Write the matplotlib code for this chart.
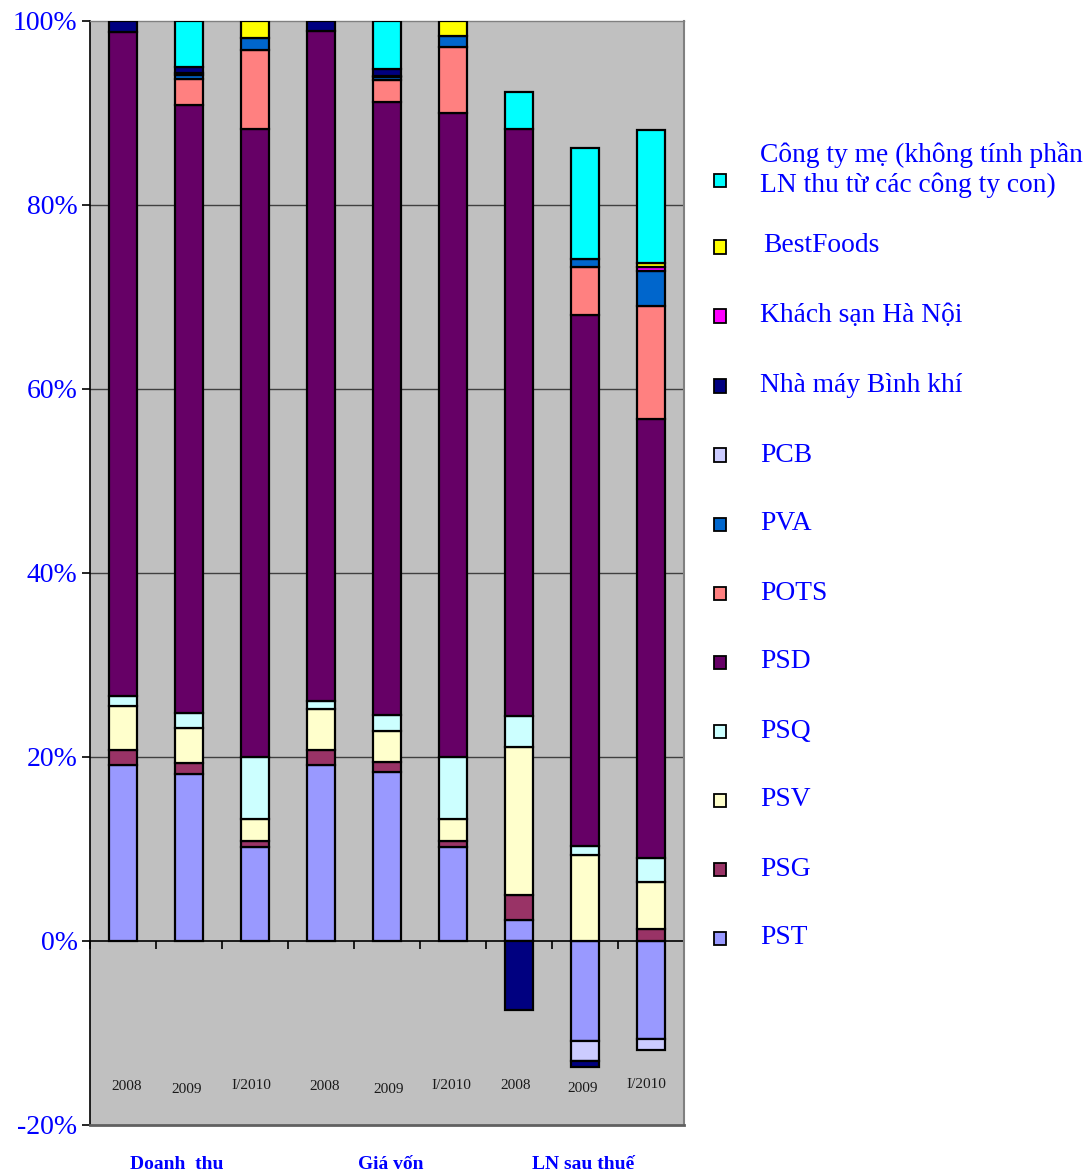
import matplotlib
matplotlib.use("Agg")
import matplotlib.pyplot as plt
import numpy as np
from matplotlib.patches import Rectangle

years = ['2008', '2009', 'I/2010', '2008', '2009', 'I/2010', '2008', '2009', 'I/2010']
groups = ['Doanh  thu', 'Giá vốn', 'LN sau thuế']

PST = [19.1, 18.2, 10.25, 19.1, 18.4, 10.25, 2.3, -10.9, -10.7]
PSG = [1.7, 1.2, 0.65, 1.7, 1.05, 0.65, 2.7, 0, 1.35]
PSV = [4.7, 3.7, 2.4, 4.45, 3.4, 2.4, 16.1, 9.4, 5.1]
PSQ = [1.1, 1.7, 6.7, 0.85, 1.7, 6.7, 3.4, 0.9, 2.6]
PSD = [72.2, 66.1, 68.3, 72.8, 66.6, 70.0, 63.8, 57.7, 47.7]
POTS = [0, 2.8, 8.5, 0, 2.4, 7.2, 0, 5.3, 12.3]
PVA = [0, 0.4, 1.3, 0, 0.4, 1.2, 0, 0.8, 3.8]
PCB = [0, 0.2, 0, 0, 0.1, 0, 0, -2.1, -1.1]
NMBK = [1.2, 0.7, 0, 1.1, 0.7, 0, -7.5, -0.7, 0]
KSHN = [0, 0, 0, 0, 0, 0, 0, 0, 0.4]
BESTFOODS = [0, 0, 1.9, 0, 0, 1.6, 0, 0, 0.5]
CTYME = [0, 5.0, 0, 0, 5.3, 0, 4.0, 12.1, 14.4]

series_names = ['PST', 'PSG', 'PSV', 'PSQ', 'PSD', 'POTS', 'PVA', 'PCB',
                'Nhà máy Bình khí', 'Khách sạn Hà Nội', 'BestFoods',
                'Công ty mẹ (không tính phần\nLN thu từ các công ty con)']
series_values = [PST, PSG, PSV, PSQ, PSD, POTS, PVA, PCB, NMBK, KSHN, BESTFOODS, CTYME]
series_colors = ['#9999FF', '#993366', '#FFFFCC', '#CCFFFF', '#660066', '#FF8080',
                 '#0066CC', '#CCCCFF', '#000080', '#FF00FF', '#FFFF00', '#00FFFF']

serif = ['Liberation Serif', 'DejaVu Serif']
BLUE = '#0000FF'

fig = plt.figure(figsize=(10.87, 11.73), dpi=100)
ax = fig.add_axes([90 / 1087, 48 / 1173, 594 / 1087, 1104 / 1173])
ax.set_facecolor('#C0C0C0')

x = np.arange(len(years))
pos_bottom = np.zeros(len(years))
neg_bottom = np.zeros(len(years))
for name, vals, col in zip(series_names, series_values, series_colors):
    v = np.array(vals, dtype=float)
    for i in range(len(v)):
        if v[i] == 0:
            continue
        if v[i] > 0:
            b = pos_bottom[i]
            pos_bottom[i] += v[i]
        else:
            b = neg_bottom[i]
            neg_bottom[i] += v[i]
        ax.bar(x[i], v[i], bottom=b, width=0.41, color=col, edgecolor='black',
               linewidth=1.6, zorder=3)

ax.set_xlim(-0.5, 8.5)
ax.set_ylim(-20, 100)
yt = [-20, 0, 20, 40, 60, 80, 100]
ax.set_yticks(yt)
ax.set_yticklabels([f'{t}%' for t in yt], fontfamily=serif, fontsize=20, color=BLUE)
for t in [20, 40, 60, 80]:
    ax.axhline(t, color='#404040', linewidth=1.0, zorder=1)

ax.spines['bottom'].set_position(('data', 0))
ax.spines['bottom'].set_color('black')
ax.spines['bottom'].set_linewidth(1.2)
ax.spines['bottom'].set_zorder(2)
ax.set_xticks(np.arange(-0.5, 9.0, 1.0))
ax.set_xticklabels([])
ax.tick_params(axis='x', direction='out', length=6, width=1.2, color='black')
ax.tick_params(axis='y', direction='out', length=6, width=1.2, color='black', pad=3)
ax.spines['left'].set_color('black')
ax.spines['left'].set_linewidth(1.2)
ax.spines['right'].set_color('#808080')
ax.spines['right'].set_linewidth(1.5)
ax.spines['top'].set_color('#808080')
ax.spines['top'].set_linewidth(1.0)
ax.axhline(-20, color='#606060', linewidth=2.0, zorder=4, clip_on=False)

year_y = [-15.8, -16.1, -15.7, -15.8, -16.1, -15.7, -15.7, -16.0, -15.6]
year_x = [0.06, 0.97, 1.94, 3.06, 4.03, 4.98, 5.95, 6.97, 7.93]
for xx, lab, yy in zip(year_x, years, year_y):
    ax.text(xx, yy, lab, ha='center', va='center', fontfamily=serif, fontsize=11,
            color='#1a1a1a')

group_x = [0.82, 4.05, 6.97]
for gx, g in zip(group_x, groups):
    ax.text(gx, -24.3, g, ha='center', va='center', fontfamily=serif, fontsize=14,
            fontweight='bold', color=BLUE, clip_on=False)

# Legend (reversed order, top = last series)
W, H = 1087, 1173
leg_y = [180, 247, 316, 386, 455, 524, 593, 662, 731, 800, 869, 938]
text_y = [170, 245, 316, 386, 455, 524, 593, 662, 731, 800, 869, 938]
leg_x_text = [760, 763, 760, 760, 760, 760, 760, 760, 760, 760, 760, 760]
for k, idx in enumerate(range(len(series_names) - 1, -1, -1)):
    yc = leg_y[k]
    fig.patches.append(Rectangle(((714) / W, (H - yc - 6.5) / H), 12 / W, 13 / H,
                                 transform=fig.transFigure, facecolor=series_colors[idx],
                                 edgecolor='black', linewidth=1.3))
    fig.text(leg_x_text[k] / W, (H - text_y[k]) / H, series_names[idx], ha='left',
             va='center', fontfamily=serif, fontsize=19.8, color=BLUE, linespacing=1.22)

fig.savefig('out.png', dpi=100)
